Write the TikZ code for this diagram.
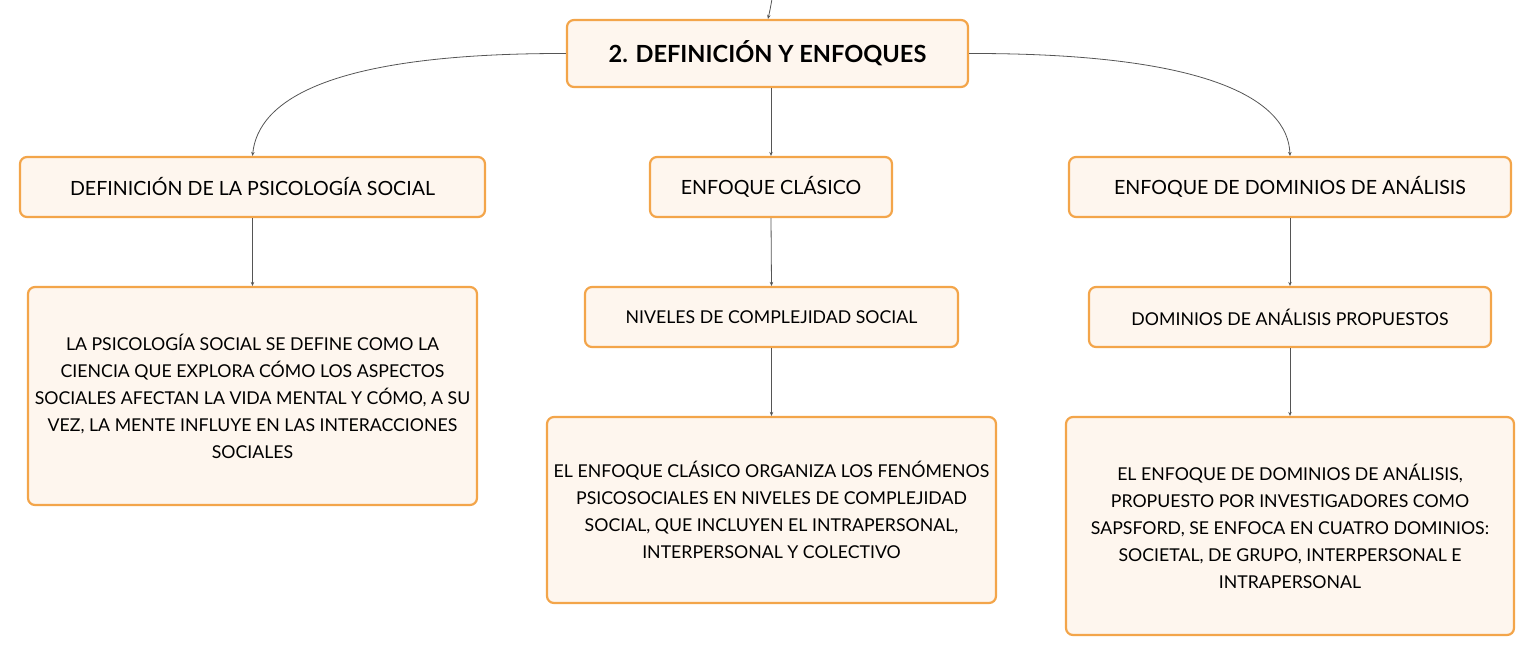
\documentclass[tikz,border=0pt]{standalone}
\usepackage{fontspec}
\setmainfont{Lato}
\usetikzlibrary{arrows.meta}
\definecolor{boxborder}{HTML}{F3A54A}
\definecolor{boxfill}{HTML}{FEF6EE}
\definecolor{linkcol}{HTML}{555555}
\tikzset{
  box/.style={draw=boxborder, fill=boxfill, line width=2.2pt, rounded corners=7pt, align=center, text=black, inner sep=0pt},
  link/.style={draw=linkcol, line width=0.8pt, -{Stealth[length=4pt,width=3.5pt]}},
}
\begin{document}
\begin{tikzpicture}[x=1pt,y=-1pt]
\useasboundingbox (0,0) rectangle (1535,656);
% top
\node[box, minimum width=401pt, minimum height=67pt, font=\fontsize{23.6}{28}\selectfont\bfseries] (top) at (767.5,53.5) {2. DEFINICIÓN Y ENFOQUES};
% level 1
\node[box, minimum width=465pt, minimum height=60pt, font=\fontsize{19.6}{23}\selectfont] (l1a) at (252.5,187) {DEFINICIÓN DE LA PSICOLOGÍA SOCIAL};
\node[box, minimum width=242pt, minimum height=60pt, font=\fontsize{19.6}{23}\selectfont] (l1b) at (771,187) {ENFOQUE CLÁSICO};
\node[box, minimum width=442pt, minimum height=60pt, font=\fontsize{19.6}{23}\selectfont] (l1c) at (1290,187) {ENFOQUE DE DOMINIOS DE ANÁLISIS};
% level 2
\node[box, minimum width=449pt, minimum height=218pt, font=\fontsize{17.7}{27}\selectfont] (l2a) at (252.5,396) {LA PSICOLOGÍA SOCIAL SE DEFINE COMO LA\\CIENCIA QUE EXPLORA CÓMO LOS ASPECTOS\\SOCIALES AFECTAN LA VIDA MENTAL Y CÓMO, A SU\\VEZ, LA MENTE INFLUYE EN LAS INTERACCIONES\\SOCIALES};
\node[box, minimum width=373pt, minimum height=60pt, font=\fontsize{17.7}{21}\selectfont] (l2b) at (771.5,317) {NIVELES DE COMPLEJIDAD SOCIAL};
\node[box, minimum width=402pt, minimum height=60pt, font=\fontsize{17.7}{21}\selectfont] (l2c) at (1290,317) {DOMINIOS DE ANÁLISIS PROPUESTOS};
% level 3
\node[box, minimum width=449pt, minimum height=186pt, font=\fontsize{17.7}{27}\selectfont] (l3b) at (771.5,510) {EL ENFOQUE CLÁSICO ORGANIZA LOS FENÓMENOS\\PSICOSOCIALES EN NIVELES DE COMPLEJIDAD\\SOCIAL, QUE INCLUYEN EL INTRAPERSONAL,\\INTERPERSONAL Y COLECTIVO};
\node[box, minimum width=448pt, minimum height=218pt, font=\fontsize{17.7}{27}\selectfont] (l3c) at (1290,526) {EL ENFOQUE DE DOMINIOS DE ANÁLISIS,\\PROPUESTO POR INVESTIGADORES COMO\\SAPSFORD, SE ENFOCA EN CUATRO DOMINIOS:\\SOCIETAL, DE GRUPO, INTERPERSONAL E\\INTRAPERSONAL};
% connectors
\coordinate (in) at (772,-1);
\draw[link] (in) .. controls (770,10) .. ([xshift=0.5pt]top.north);
\draw[link] (top.west) .. controls (330,53) and (258,100) .. (l1a.north);
\draw[link] (top.east) .. controls (1210,53) and (1288,100) .. (l1c.north);
\draw[link] (l1b.north |- top.south) -- (l1b.north);
\draw[link] (l1a.south) -- (l2a.north);
\draw[link] (l1b.south) -- (l2b.north);
\draw[link] (l1c.south) -- (l2c.north);
\draw[link] (l2b.south) -- (l3b.north);
\draw[link] (l2c.south) -- (l3c.north);
\end{tikzpicture}
\end{document}
